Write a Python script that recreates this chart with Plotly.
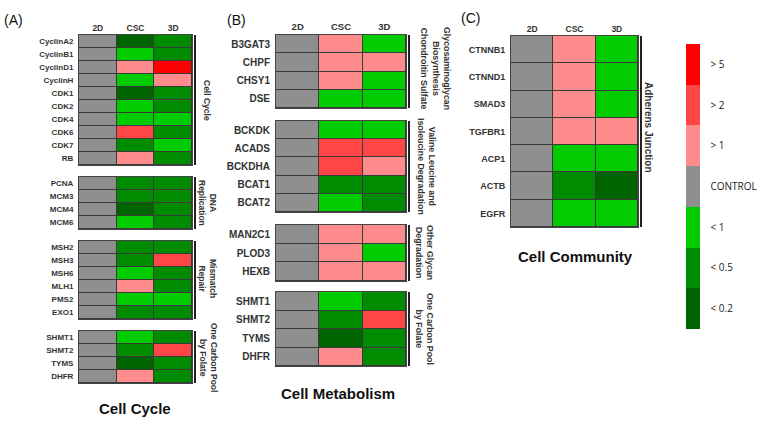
import plotly.graph_objects as go

# colour levels, low -> high (code -3 .. 3)
level_labels = ["< 0.2", "< 0.5", "< 1", "CONTROL", "> 1", "> 2", "> 5"]
level_codes = [-3, -2, -1, 0, 1, 2, 3]
level_colors = ["#006400", "#008C00", "#00CC00", "#8F8F8F", "#FF8C8C", "#FF4646", "#FF0000"]

conditions = ["2D", "CSC", "3D"]

# ---- (A) Cell Cycle ---- values per row: [2D, CSC, 3D]
cell_cycle_genes = ["CyclinA2", "CyclinB1", "CyclinD1", "CyclinH", "CDK1",
                    "CDK2", "CDK4", "CDK6", "CDK7", "RB"]
cell_cycle_vals = [[0, -3, -2], [0, -1, -2], [0, 1, 3], [0, -1, 1], [0, -3, -2],
                   [0, -1, -2], [0, -1, -1], [0, 2, -2], [0, -2, -1], [0, 1, -2]]

dna_rep_genes = ["PCNA", "MCM3", "MCM4", "MCM6"]
dna_rep_vals = [[0, -2, -2], [0, -2, -2], [0, -3, -2], [0, -1, -2]]

mismatch_genes = ["MSH2", "MSH3", "MSH6", "MLH1", "PMS2", "EXO1"]
mismatch_vals = [[0, -2, -2], [0, -2, 2], [0, -1, -2], [0, 1, -2], [0, -1, -1], [0, -2, -2]]

folate_a_genes = ["SHMT1", "SHMT2", "TYMS", "DHFR"]
folate_a_vals = [[0, -1, -2], [0, -2, 2], [0, -3, -2], [0, 1, -2]]

# ---- (B) Cell Metabolism ----
chondroitin_genes = ["B3GAT3", "CHPF", "CHSY1", "DSE"]
chondroitin_vals = [[0, 1, -1], [0, 1, 1], [0, 1, -1], [0, -1, -1]]

valine_genes = ["BCKDK", "ACADS", "BCKDHA", "BCAT1", "BCAT2"]
valine_vals = [[0, -1, -1], [0, 2, 2], [0, 2, 1], [0, -2, -2], [0, -1, -2]]

glycan_genes = ["MAN2C1", "PLOD3", "HEXB"]
glycan_vals = [[0, 1, 1], [0, 1, -1], [0, 1, 1]]

folate_b_genes = ["SHMT1", "SHMT2", "TYMS", "DHFR"]
folate_b_vals = [[0, -1, -2], [0, -2, 2], [0, -3, -2], [0, 1, -2]]

# ---- (C) Cell Community ----
adherens_genes = ["CTNNB1", "CTNND1", "SMAD3", "TGFBR1", "ACP1", "ACTB", "EGFR"]
adherens_vals = [[0, 1, -1], [0, 1, -1], [0, 1, -1], [0, 1, 1], [0, -1, -1], [0, -2, -3], [0, -1, -1]]

W, H = 764, 422
FONT = "Liberation Sans, Arial, sans-serif"
DARK = "#222222"

# discrete colourscale over zmin=-3.5 .. zmax=3.5
colorscale = []
for i, c in enumerate(level_colors):
    colorscale.append([i / 7, c])
    colorscale.append([(i + 1) / 7, c])


def px_x(v):
    return v / W


def px_y(v):
    return 1 - v / H


# genes, vals, x0, x1, y0, y1, font size, header?, group label, label x, label y, label size
groups = [
    (cell_cycle_genes, cell_cycle_vals, 79, 192, 35, 165, 8, True, "Cell Cycle", 207, 100, 8.5),
    (dna_rep_genes, dna_rep_vals, 79, 192, 177, 229, 8, False, "DNA<br>Replication", 208, 203, 8.5),
    (mismatch_genes, mismatch_vals, 79, 192, 241, 319, 8, False, "Mismatch<br>Repair", 208, 278, 8.5),
    (folate_a_genes, folate_a_vals, 79, 192, 331, 383, 8, False, "One Carbon Pool<br>by Folate", 209, 357, 8.5),
    (chondroitin_genes, chondroitin_vals, 276, 406, 35, 108, 10, True,
     "Glycosaminoglycan<br>Biosynthesis<br>Chondroitin Sulfate", 436, 68, 8.8),
    (valine_genes, valine_vals, 276, 406, 121, 212, 10, False,
     "Valine Leucine and<br>Isoleucine Degradation", 426, 166, 8.8),
    (glycan_genes, glycan_vals, 276, 406, 225, 281, 10, False, "Other Glycan<br>Degradation", 425, 253, 8.8),
    (folate_b_genes, folate_b_vals, 276, 406, 292, 366, 10, False, "One Carbon Pool<br>by Folate", 425, 329, 8.8),
    (adherens_genes, adherens_vals, 511, 638, 36, 227, 9, True, "Adherens Junction", 648, 127, 10),
]

fig = go.Figure()
layout_axes = {}
annotations = []
shapes = []

for k, (genes, vals, x0, x1, y0, y1, fs, header, glabel, lx, ly, lfs) in enumerate(groups):
    n = k + 1
    xa = "x" if n == 1 else f"x{n}"
    ya = "y" if n == 1 else f"y{n}"
    fig.add_trace(go.Heatmap(
        z=vals, x=conditions, y=genes,
        xaxis=xa, yaxis=ya,
        zmin=-3.5, zmax=3.5, colorscale=colorscale,
        xgap=1, ygap=1,
        showscale=(k == 0),
        colorbar=dict(
            x=686 / W, xanchor="left", xpad=0, ypad=0,
            y=px_y((44 + 329) / 2), yanchor="middle",
            len=285 / H, lenmode="fraction",
            thickness=14, thicknessmode="pixels",
            outlinewidth=0,
            tickvals=level_codes, ticktext=level_labels,
            ticks="outside", ticklen=9, tickcolor="rgba(0,0,0,0)",
            tickfont=dict(family="Open Sans, sans-serif", size=10, color="#222"),
        ),
        hoverinfo="skip",
    ))
    layout_axes["xaxis" if n == 1 else f"xaxis{n}"] = dict(
        domain=[px_x(x0), px_x(x1)], anchor=ya,
        side="top", showticklabels=header, ticks="",
        tickfont=dict(family=FONT, size=8.5 if fs < 10 else 9.5, color="#333", weight="bold"),
        showgrid=False, zeroline=False,
        showline=True, mirror=True, linecolor="#444", linewidth=1,
        fixedrange=True,
    )
    layout_axes["yaxis" if n == 1 else f"yaxis{n}"] = dict(
        domain=[px_y(y1), px_y(y0)], anchor=xa,
        autorange="reversed", ticks="outside", ticklen=3, tickcolor="rgba(0,0,0,0)",
        tickfont=dict(family=FONT, size=fs, color="#333", weight="bold"),
        showgrid=False, zeroline=False,
        showline=True, mirror=True, linecolor="#444", linewidth=1,
        fixedrange=True,
    )
    # bracket to the right of the group
    bx = x1 + 3
    shapes.append(dict(type="line", xref="paper", yref="paper",
                       x0=px_x(bx), x1=px_x(bx), y0=px_y(y0), y1=px_y(y1),
                       line=dict(color=DARK, width=2)))
    annotations.append(dict(xref="paper", yref="paper", x=px_x(lx), y=px_y(ly),
                            text=glabel, textangle=90, showarrow=False,
                            xanchor="center", yanchor="middle",
                            font=dict(family=FONT, size=lfs, color="#333", weight="bold")))

# panel letters
for txt, x, y in [("(A)", 14, 20), ("(B)", 236, 20), ("(C)", 470, 18)]:
    annotations.append(dict(xref="paper", yref="paper", x=px_x(x), y=px_y(y), text=txt,
                            showarrow=False, xanchor="center", yanchor="middle",
                            font=dict(family=FONT, size=14, color="#111")))

# panel titles
for txt, x, y in [("Cell Cycle", 135, 408), ("Cell Metabolism", 338, 393), ("Cell Community", 575, 256)]:
    annotations.append(dict(xref="paper", yref="paper", x=px_x(x), y=px_y(y), text=txt,
                            showarrow=False, xanchor="center", yanchor="middle",
                            font=dict(family=FONT, size=15, color="#111", weight="bold")))

fig.update_layout(
    width=W, height=H,
    margin=dict(l=0, r=0, t=0, b=0),
    paper_bgcolor="white",
    plot_bgcolor="#3a3a3a",
    showlegend=False,
    annotations=annotations,
    shapes=shapes,
    **layout_axes,
)

# the page's default body margin would push the figure 8px down/right
fig.write_html("out.html", config={"displayModeBar": False},
               post_script="document.body.style.margin='0';")
